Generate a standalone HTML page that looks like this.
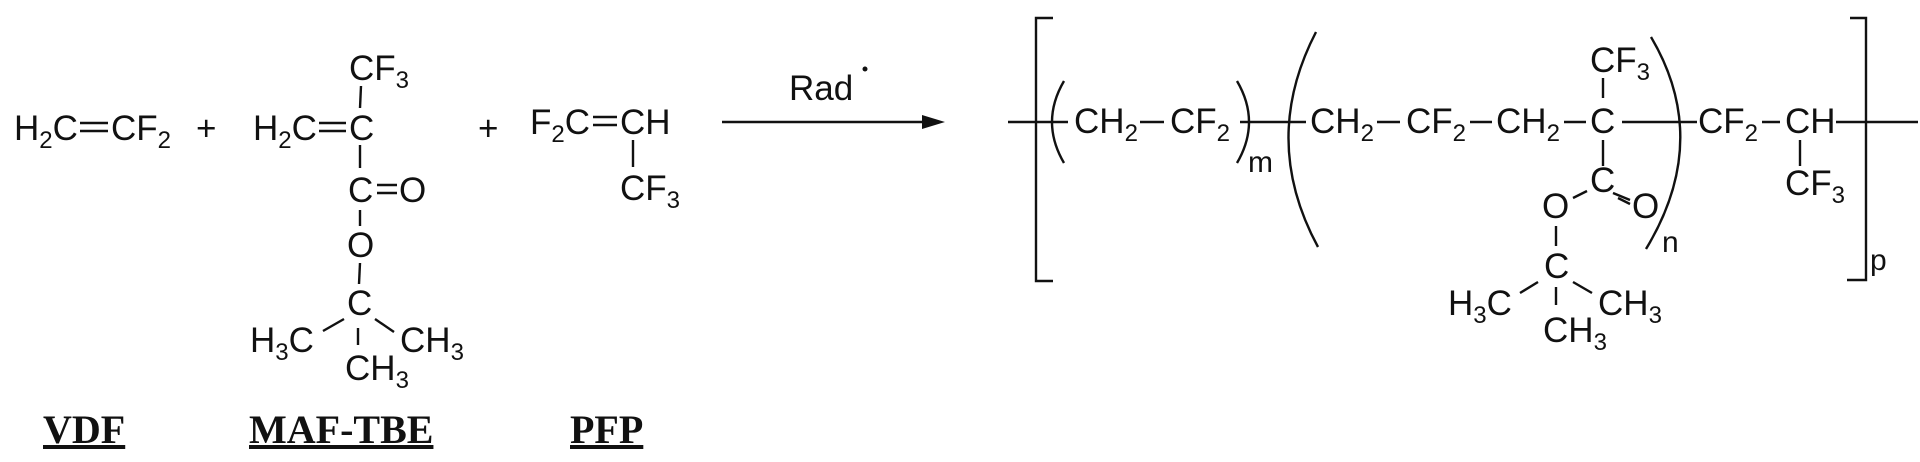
<!DOCTYPE html>
<html><head><meta charset="utf-8"><style>
html,body{margin:0;padding:0;background:#fff}
svg{display:block}
text{font-family:"Liberation Sans",sans-serif;font-size:35px;fill:#111}
.s{font-size:24px}
.lbl{font-family:"Liberation Serif",serif;font-weight:bold;font-size:40px;text-decoration:underline}
line,path,polyline{stroke:#111;stroke-width:2.4;fill:none}
</style></head><body>
<svg width="1920" height="462" viewBox="0 0 1920 462" xmlns="http://www.w3.org/2000/svg">
<!-- VDF -->
<text x="14" y="140">H<tspan class="s" dy="8">2</tspan><tspan dy="-8">C</tspan></text>
<line x1="80" y1="123" x2="108" y2="123"/><line x1="80" y1="131" x2="108" y2="131"/>
<text x="111" y="140">CF<tspan class="s" dy="8">2</tspan></text>
<text x="196" y="140">+</text>
<!-- MAF-TBE -->
<text x="253" y="140">H<tspan class="s" dy="8">2</tspan><tspan dy="-8">C</tspan></text>
<line x1="319" y1="123" x2="346" y2="123"/><line x1="319" y1="131" x2="346" y2="131"/>
<text x="349" y="140">C</text>
<text x="349" y="80">CF<tspan class="s" dy="8">3</tspan></text>
<line x1="361" y1="86" x2="360" y2="108"/>
<line x1="360" y1="145" x2="360" y2="168"/>
<text x="348" y="202">C</text>
<line x1="377" y1="185" x2="397" y2="185"/><line x1="377" y1="193" x2="397" y2="193"/>
<text x="399" y="202">O</text>
<line x1="360" y1="210" x2="360" y2="226"/>
<text x="347" y="257">O</text>
<line x1="360" y1="263" x2="359" y2="284"/>
<text x="347" y="315">C</text>
<line x1="344" y1="319" x2="323" y2="331"/>
<line x1="375" y1="319" x2="394" y2="332"/>
<line x1="358" y1="328" x2="358" y2="345"/>
<text x="250" y="352">H<tspan class="s" dy="8">3</tspan><tspan dy="-8">C</tspan></text>
<text x="400" y="352">CH<tspan class="s" dy="8">3</tspan></text>
<text x="345" y="380">CH<tspan class="s" dy="8">3</tspan></text>
<text x="478" y="140">+</text>
<!-- PFP -->
<text x="530" y="134">F<tspan class="s" dy="8">2</tspan><tspan dy="-8">C</tspan></text>
<line x1="593" y1="117" x2="617" y2="117"/><line x1="593" y1="125" x2="617" y2="125"/>
<text x="620" y="134">CH</text>
<line x1="633" y1="140" x2="633" y2="167"/>
<text x="620" y="200">CF<tspan class="s" dy="8">3</tspan></text>
<!-- labels -->
<text class="lbl" x="43" y="443">VDF</text>
<text class="lbl" x="249" y="443">MAF-TBE</text>
<text class="lbl" x="570" y="443">PFP</text>
<!-- arrow -->
<line x1="722" y1="122" x2="925" y2="122"/>
<polygon points="945,122 922,115 922,129" fill="#111"/>
<text x="789" y="100">Rad</text>
<circle cx="865" cy="69" r="2.5" fill="#111"/>
<!-- polymer -->
<polyline points="1053,18 1036,18 1036,281 1053,281"/>
<line x1="1008" y1="122" x2="1068" y2="122"/>
<path d="M1064,81 Q1040,122 1064,163"/>
<text x="1074" y="133">CH<tspan class="s" dy="8">2</tspan></text>
<line x1="1140" y1="122" x2="1164" y2="122"/>
<text x="1170" y="133">CF<tspan class="s" dy="8">2</tspan></text>
<path d="M1237,81 Q1261,122 1237,163"/>
<text x="1248" y="172" style="font-size:30px">m</text>
<line x1="1240" y1="122" x2="1306" y2="122"/>
<path d="M1316,32 Q1260,140 1318,247"/>
<text x="1310" y="133">CH<tspan class="s" dy="8">2</tspan></text>
<line x1="1377" y1="122" x2="1400" y2="122"/>
<text x="1406" y="133">CF<tspan class="s" dy="8">2</tspan></text>
<line x1="1470" y1="122" x2="1492" y2="122"/>
<text x="1496" y="133">CH<tspan class="s" dy="8">2</tspan></text>
<line x1="1564" y1="122" x2="1586" y2="122"/>
<text x="1590" y="133">C</text>
<text x="1590" y="72">CF<tspan class="s" dy="8">3</tspan></text>
<line x1="1603" y1="78" x2="1603" y2="98"/>
<line x1="1622" y1="122" x2="1697" y2="122"/>
<line x1="1603" y1="140" x2="1603" y2="166"/>
<text x="1590" y="192">C</text>
<line x1="1573" y1="198" x2="1587" y2="191"/>
<line x1="1613" y1="193" x2="1630" y2="200"/>
<line x1="1618" y1="198" x2="1630" y2="204"/>
<text x="1632" y="218">O</text>
<text x="1542" y="218">O</text>
<line x1="1556" y1="226" x2="1556" y2="246"/>
<text x="1544" y="278">C</text>
<line x1="1538" y1="282" x2="1520" y2="293"/>
<line x1="1573" y1="282" x2="1592" y2="293"/>
<line x1="1556" y1="287" x2="1556" y2="305"/>
<text x="1448" y="315">H<tspan class="s" dy="8">3</tspan><tspan dy="-8">C</tspan></text>
<text x="1598" y="315">CH<tspan class="s" dy="8">3</tspan></text>
<text x="1543" y="342">CH<tspan class="s" dy="8">3</tspan></text>
<path d="M1651,37 Q1712,140 1646,249"/>
<text x="1662" y="252" style="font-size:30px">n</text>
<text x="1698" y="133">CF<tspan class="s" dy="8">2</tspan></text>
<line x1="1762" y1="122" x2="1780" y2="122"/>
<text x="1785" y="133">CH</text>
<line x1="1836" y1="122" x2="1918" y2="122"/>
<line x1="1800" y1="140" x2="1800" y2="166"/>
<text x="1785" y="195">CF<tspan class="s" dy="8">3</tspan></text>
<polyline points="1850,18 1866,18 1866,280 1847,280"/>
<text x="1870" y="270" style="font-size:30px">p</text>
</svg>
</body></html>
